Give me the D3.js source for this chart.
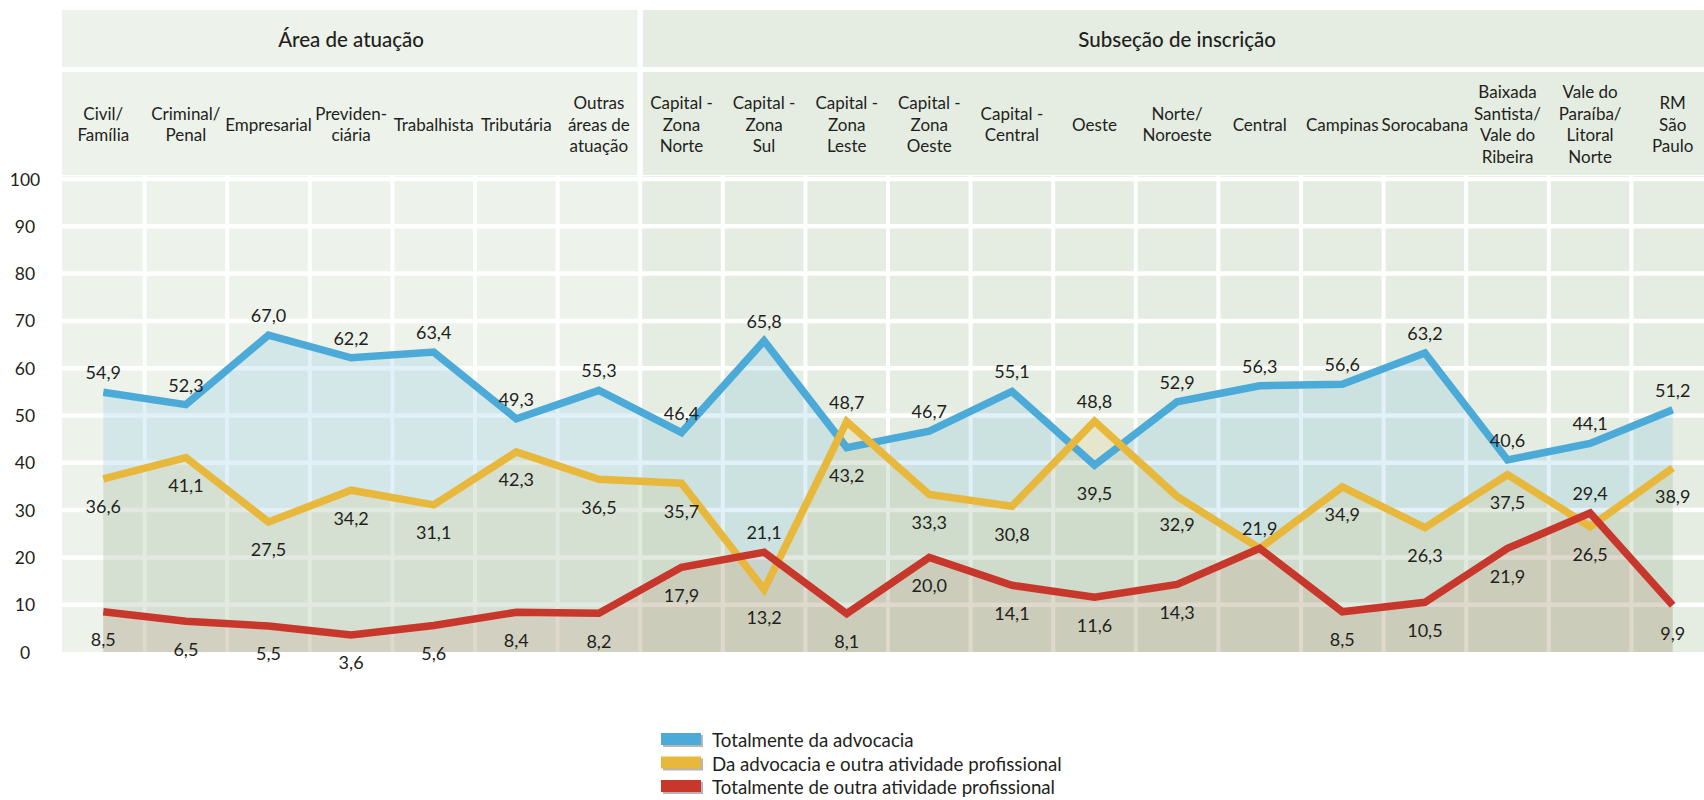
<!DOCTYPE html>
<html>
<head>
<meta charset="utf-8">
<script src="https://cdn.jsdelivr.net/npm/d3@7"></script>
<style>
  html, body { margin: 0; padding: 0; background: #ffffff; }
  svg { display: block; font-family: Lato, "Open Sans", sans-serif; }
</style>
</head>
<body>
<svg id="chart" width="1704" height="800"></svg>
<script>
// ---------- DATA ----------
const groupTitles = ["Área de atuação", "Subseção de inscrição"];
const categoriesArea = ["Civil/\nFamília", "Criminal/\nPenal", "Empresarial", "Previden-\nciária", "Trabalhista", "Tributária", "Outras\náreas de\natuação"];
const categoriesSub = ["Capital -\nZona\nNorte", "Capital -\nZona\nSul", "Capital -\nZona\nLeste", "Capital -\nZona\nOeste", "Capital -\nCentral", "Oeste", "Norte/\nNoroeste", "Central", "Campinas", "Sorocabana", "Baixada\nSantista/\nVale do\nRibeira", "Vale do\nParaíba/\nLitoral\nNorte", "RM\nSão\nPaulo"];
const categories = categoriesArea.concat(categoriesSub);

const seriesNames = ["Totalmente da advocacia", "Da advocacia e outra atividade profissional", "Totalmente de outra atividade profissional"];
const totalAdvocacia = [54.9, 52.3, 67.0, 62.2, 63.4, 49.3, 55.3, 46.4, 65.8, 43.2, 46.7, 55.1, 39.5, 52.9, 56.3, 56.6, 63.2, 40.6, 44.1, 51.2];
const advocaciaEOutra = [36.6, 41.1, 27.5, 34.2, 31.1, 42.3, 36.5, 35.7, 13.2, 48.7, 33.3, 30.8, 48.8, 32.9, 21.9, 34.9, 26.3, 37.5, 26.5, 38.9];
const totalOutra = [8.5, 6.5, 5.5, 3.6, 5.6, 8.4, 8.2, 17.9, 21.1, 8.1, 20.0, 14.1, 11.6, 14.3, 21.9, 8.5, 10.5, 21.9, 29.4, 9.9];
// label side for each value: a = above, b = below, n = not shown
const sideAdvocacia = ["a","a","a","a","a","a","a","a","a","b","a","a","b","a","a","a","a","a","a","a"];
const sideAdvEOutra = ["b","b","b","b","b","b","b","b","b","a","b","b","a","b","n","b","b","b","b","b"];
const sideOutra     = ["b","b","b","b","b","b","b","b","a","b","b","b","b","b","a","b","b","b","a","b"];
const yTicks = [0, 10, 20, 30, 40, 50, 60, 70, 80, 90, 100];

// ---------- STYLE ----------
const lineColors = ["#4BAAD8", "#E8B83C", "#C8372B"];
const fillColors = ["rgba(75,170,216,0.16)", "rgba(232,184,60,0.13)", "rgba(190,70,40,0.10)"];
const textColor = "#231F20";
const bgA = "#EDF2EB", bgB = "#E5EDE2";

const svg = d3.select("#chart");

const x = d3.scaleBand().domain(categories).range([62, 1714]).paddingInner(0).paddingOuter(0);
const cx = c => x(c) + x.bandwidth() / 2;
const y = d3.scaleLinear().domain([0, 100]).range([652, 179]);

const divX = x(categoriesSub[0]);
const leftX = x(categories[0]);
const rightX = x(categories[categories.length - 1]) + x.bandwidth();

// header rows
const header = svg.append("g");
[[leftX, divX - 2.5, bgA], [divX + 2.5, rightX, bgB]].forEach(([a, b, col]) => {
  header.append("rect").attr("x", a).attr("y", 10).attr("width", b - a).attr("height", 57).attr("fill", col);
  header.append("rect").attr("x", a).attr("y", 72).attr("width", b - a).attr("height", 103).attr("fill", col);
});
header.append("text").attr("x", (leftX + divX) / 2).attr("y", 39)
  .attr("text-anchor", "middle").attr("dominant-baseline", "central")
  .attr("font-size", 20.5).attr("font-weight", 500).attr("fill", textColor).text(groupTitles[0]);
header.append("text").attr("x", (divX + rightX) / 2).attr("y", 39)
  .attr("text-anchor", "middle").attr("dominant-baseline", "central")
  .attr("font-size", 20.5).attr("font-weight", 500).attr("fill", textColor).text(groupTitles[1]);

const lineH = 21.5;
categories.forEach(c => {
  const lines = c.split("\n");
  const t = header.append("text").attr("text-anchor", "middle").attr("font-size", 17).attr("fill", textColor);
  const y0 = 124 - (lines.length - 1) * lineH / 2;
  lines.forEach((ln, i) => {
    t.append("tspan").attr("x", cx(c)).attr("y", y0 + i * lineH).attr("dominant-baseline", "central").text(ln);
  });
});

// plot background
svg.append("rect").attr("x", leftX).attr("y", 176).attr("width", divX - leftX).attr("height", 652 - 176).attr("fill", bgA);
svg.append("rect").attr("x", divX).attr("y", 176).attr("width", rightX - divX).attr("height", 652 - 176).attr("fill", bgB);

// gridlines
const grid = svg.append("g");
yTicks.filter(v => v > 0).forEach(v => {
  grid.append("line").attr("x1", leftX).attr("x2", rightX).attr("y1", y(v)).attr("y2", y(v))
    .attr("stroke", "#ffffff").attr("stroke-width", 4.5);
});
categories.slice(1).forEach(c => {
  grid.append("line").attr("x1", x(c)).attr("x2", x(c)).attr("y1", 176).attr("y2", 652)
    .attr("stroke", "#ffffff").attr("stroke-width", 4);
});
// section divider through header
svg.append("line").attr("x1", divX).attr("x2", divX).attr("y1", 10).attr("y2", 176)
  .attr("stroke", "#ffffff").attr("stroke-width", 5);

// y tick labels
svg.append("g").selectAll("text").data(yTicks).join("text")
  .attr("x", 25).attr("y", d => y(d)).attr("text-anchor", "middle").attr("dominant-baseline", "central")
  .attr("font-size", 17.5).attr("fill", textColor).text(d => d);

// series
const seriesValues = [totalAdvocacia, advocaciaEOutra, totalOutra];
const seriesSides = [sideAdvocacia, sideAdvEOutra, sideOutra];
const area = d3.area().x(d => cx(d.c)).y0(y(0)).y1(d => y(d.v));
const line = d3.line().x(d => cx(d.c)).y(d => y(d.v));
const seriesData = seriesValues.map(vals => vals.map((v, i) => ({ c: categories[i], v })));

const areas = svg.append("g");
seriesData.forEach((d, i) => areas.append("path").attr("d", area(d)).attr("fill", fillColors[i]));
const lines = svg.append("g");
seriesData.forEach((d, i) => lines.append("path").attr("d", line(d)).attr("fill", "none")
  .attr("stroke", lineColors[i]).attr("stroke-width", 7.5).attr("stroke-linejoin", "miter").attr("stroke-miterlimit", 10));

const fmt = v => v.toFixed(1).replace(".", ",");
const labels = svg.append("g");
seriesData.forEach((d, si) => {
  d.forEach((p, i) => {
    const side = seriesSides[si][i];
    if (side === "n") return;
    labels.append("text").attr("x", cx(p.c)).attr("y", y(p.v) + (side === "a" ? -20 : 27.5))
      .attr("text-anchor", "middle").attr("dominant-baseline", "central")
      .attr("font-size", 18).attr("fill", textColor).text(fmt(p.v));
  });
});

// legend
const legend = svg.append("g");
seriesNames.forEach((n, i) => {
  const ly = 740 + i * 23.5;
  legend.append("rect").attr("x", 663).attr("y", ly - 5).attr("width", 40).attr("height", 12).attr("fill", "#b5b5b5");
  legend.append("rect").attr("x", 661).attr("y", ly - 7).attr("width", 40).attr("height", 12).attr("fill", lineColors[i]);
  legend.append("text").attr("x", 712).attr("y", ly).attr("dominant-baseline", "central")
    .attr("font-size", 18.7).attr("fill", textColor).text(n);
});
</script>
</body>
</html>
